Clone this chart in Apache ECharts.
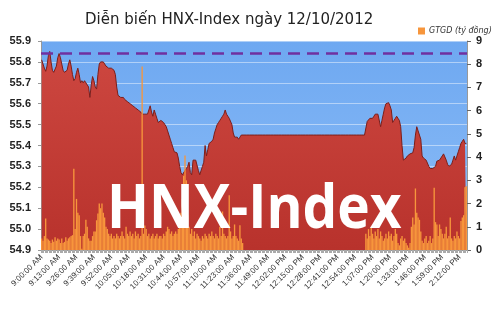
<!DOCTYPE html>
<html><head><meta charset="utf-8">
<script src="https://cdn.jsdelivr.net/npm/echarts@6/dist/echarts.min.js"></script>
<style>html,body{margin:0;padding:0;background:#fff}#c{width:500px;height:313px}</style>
</head><body><div id="c"></div>
<script>
const titleText = 'Diễn biến HNX-Index ngày 12/10/2012';
const volumeName = 'GTGD (tỷ đồng)';
const watermarkText = 'HNX-Index';
const referenceLevel = 55.84;

// HNX-Index, one value per minute
const morningIndex = [
55.81,55.79,55.77,55.755,55.78,55.83,55.85,55.80,55.76,55.75,
55.75,55.78,55.82,55.84,55.82,55.79,55.76,55.75,55.75,55.76,
55.79,55.81,55.78,55.74,55.71,55.72,55.75,55.77,55.74,55.70,
55.71,55.70,55.71,55.70,55.70,55.68,55.63,55.69,55.73,55.71,
55.68,55.67,55.74,55.79,55.80,55.80,55.80,55.79,55.78,55.78,
55.77,55.77,55.77,55.77,55.76,55.74,55.68,55.64,55.64,55.63,
55.63,55.63,55.62,55.62,55.61,55.61,55.60,55.595,55.59,55.59,
55.58,55.58,55.57,55.57,55.56,55.55,55.55,55.55,55.55,55.55,
55.55,55.59,55.56,55.54,55.57,55.55,55.53,55.51,55.51,55.52,
55.515,55.51,55.50,55.49,55.47,55.45,55.43,55.41,55.39,55.37,
55.37,55.365,55.34,55.30,55.27,55.26,55.26,55.28,55.29,55.30,
55.32,55.27,55.26,55.33,55.33,55.33,55.33,55.28,55.26,55.26,
55.30,55.32,55.40,55.35,55.38,55.41,55.41,55.42,55.43,55.46,
55.48,55.50,55.51,55.52,55.53,55.54,55.55,55.57,55.55,55.54,
55.53,55.53,55.50,55.46,55.44,55.44,55.44,55.43,55.44,55.45
];
const lunchIndex = [
55.45,55.45,55.45,55.45,55.45,55.45,55.45,55.45,55.45,55.45,
55.45,55.45,55.45,55.45,55.45,55.45,55.45,55.45,55.45,55.45,
55.45,55.45,55.45,55.45,55.45,55.45,55.45,55.45,55.45,55.45,
55.45,55.45,55.45,55.45,55.45,55.45,55.45,55.45,55.45,55.45,
55.45,55.45,55.45,55.45,55.45,55.45,55.45,55.45,55.45,55.45,
55.45,55.45,55.45,55.45,55.45,55.45,55.45,55.45,55.45,55.45,
55.45,55.45,55.45,55.45,55.45,55.45,55.45,55.45,55.45,55.45,
55.45,55.45,55.45,55.45,55.45,55.45,55.45,55.45,55.45,55.45,
55.45,55.45,55.45,55.45,55.45,55.45,55.45,55.45,55.45,55.45,
55.45,55.45
];
const afternoonIndex = [
55.45,55.515,55.52,55.53,55.53,55.53,55.54,55.55,55.55,55.55,
55.55,55.49,55.52,55.55,55.58,55.60,55.60,55.605,55.59,55.57,
55.51,55.52,55.53,55.54,55.53,55.52,55.49,55.40,55.33,55.33,
55.34,55.35,55.355,55.36,55.36,55.365,55.39,55.45,55.49,55.47,
55.45,55.43,55.35,55.34,55.34,55.33,55.325,55.30,55.29,55.29,
55.29,55.285,55.30,55.325,55.33,55.33,55.34,55.35,55.36,55.36,
55.33,55.31,55.30,55.30,55.31,55.33,55.35,55.33,55.35,55.37,
55.39,55.41,55.42,55.43,55.41,55.41
];

// GTGD (tỷ đồng), one value per minute
const morningVolume = [
0.5,0.4,0.6,1.36,0.5,0.45,0.4,0.3,0.45,0.35,
0.55,0.4,0.5,0.45,0.3,0.5,0.3,0.35,0.55,0.4,
0.5,0.55,0.6,0.64,3.5,0.9,2.2,1.6,1.5,0.6,
0.05,0.6,0.7,1.3,1.0,0.5,0.4,0.4,0.6,0.8,
0.8,1.28,1.57,2.0,1.8,2.0,1.6,1.4,1.0,0.9,
0.7,0.6,0.7,0.5,0.6,0.5,0.7,0.6,0.5,0.6,
0.8,0.6,0.5,1.0,0.7,0.6,0.8,0.6,0.7,0.5,
0.8,0.6,0.7,0.5,0.6,7.9,0.7,1.05,0.9,0.6,
0.7,0.5,0.6,0.7,0.5,0.6,0.7,0.5,0.6,0.6,
0.5,0.7,0.6,0.8,1.0,0.9,0.7,0.8,0.6,0.7,
0.8,0.7,0.9,1.2,1.6,2.2,3.2,4.07,3.0,1.5,
1.0,0.7,0.9,0.6,0.8,0.5,0.7,0.6,0.5,0.4,
0.6,0.5,0.7,0.6,0.5,0.7,0.6,0.8,0.6,0.5,
0.7,0.6,0.5,1.0,0.6,1.66,0.7,0.6,0.5,0.6,
2.36,0.8,0.5,0.6,1.1,0.6,0.5,0.4,1.07,0.5
];
const lunchVolume = [
0.3,0,0,0,0,0,0,0,0,0,
0,0,0,0,0,0,0,0,0,0,
0,0,0,0,0,0,0,0,0,0,
0,0,0,0,0,0,0,0,0,0,
0,0,0,0,0,0,0,0,0,0,
0,0,0,0,0,0,0,0,0,0,
0,0,0,0,0,0,0,0,0,0,
0,0,0,0,0,0,0,0,0,0,
0,0,0,0,0,0,0,0,0,0,
0,0
];
const afternoonVolume = [
0.7,0.5,0.9,0.6,1.0,0.7,0.5,0.8,0.6,0.9,
0.5,0.8,0.6,0.4,0.5,0.7,0.5,0.8,0.6,0.7,
0.4,0.6,0.9,0.7,0.3,0.2,0.5,0.6,0.4,0.5,
0.3,0.2,0.1,0.3,1.0,1.4,1.1,2.65,1.6,1.4,
1.3,0.8,0.4,0.3,0.5,0.6,0.3,0.4,0.6,0.3,
0.5,2.68,1.2,1.1,0.6,1.1,0.9,0.7,0.5,0.7,
1.0,0.5,0.6,1.4,0.5,0.4,0.6,0.5,0.8,0.6,
0.5,1.25,1.4,1.5,2.7,2.75
];

const indexValues = morningIndex.concat(lunchIndex, afternoonIndex);
const volumeValues = morningVolume.concat(lunchVolume, afternoonVolume);

// time categories, one per minute from 9:00:00 AM
const categories = [];
for (let i = 0; i < indexValues.length; i++) {
  const t = 9 * 60 + i;
  const h = Math.floor(t / 60), m = t % 60;
  const ap = h >= 12 ? 'PM' : 'AM';
  const hh = h > 12 ? h - 12 : h;
  categories.push(hh + ':' + String(m).padStart(2, '0') + ':00 ' + ap);
}

const chart = echarts.init(document.getElementById('c'), null, {renderer: 'canvas'});
chart.setOption({
  animation: false,
  backgroundColor: '#ffffff',
  title: {
    text: titleText, left: 80, top: 8,
    textStyle: {fontFamily: 'DejaVu Sans', fontSize: 15, fontWeight: 'normal', color: '#222'}
  },
  legend: {
    data: [volumeName], left: 413, top: 22, icon: 'rect', itemWidth: 7, itemHeight: 7, itemGap: 4,
    textStyle: {fontFamily: 'DejaVu Sans', fontStyle: 'italic', fontSize: 8, color: '#333', padding: [0, 0, 0, -1]}
  },
  grid: {
    left: 41, right: 33, top: 41, bottom: 63, show: true, borderWidth: 0,
    backgroundColor: new echarts.graphic.LinearGradient(0, 0, 0, 1, [
      {offset: 0, color: '#6ea8f1'}, {offset: 1, color: '#8cbdf7'}
    ])
  },
  xAxis: {
    type: 'category', data: categories, boundaryGap: true,
    axisLine: {lineStyle: {color: '#999'}},
    axisTick: {show: true, interval: 0, length: 3, lineStyle: {color: '#aaa'}},
    axisLabel: {interval: 12, rotate: 45, fontSize: 8, fontFamily: 'Liberation Sans', color: '#333', margin: 6}
  },
  yAxis: [{
    type: 'value', min: 54.9, max: 55.9, interval: 0.1, position: 'left',
    axisLine: {show: true, lineStyle: {color: '#999'}},
    axisTick: {show: true, length: 3, lineStyle: {color: '#999'}},
    axisLabel: {formatter: v => v.toFixed(1), fontFamily: 'Liberation Sans', fontWeight: 'bold', fontSize: 11, color: '#222', margin: 10},
    splitLine: {lineStyle: {color: 'rgba(255,255,255,0.45)', width: 1}}
  }, {
    type: 'value', min: 0, max: 9, interval: 1, position: 'right',
    axisLine: {show: true, lineStyle: {color: '#999'}},
    axisTick: {show: true, length: 4, lineStyle: {color: '#666'}},
    axisLabel: {fontFamily: 'Liberation Sans', fontWeight: 'bold', fontSize: 11, color: '#222', margin: 9},
    splitLine: {show: false}
  }],
  series: [{
    name: 'HNX-Index', type: 'line', data: indexValues, symbol: 'none', z: 2,
    lineStyle: {color: '#7c1e19', width: 1},
    areaStyle: {origin: 'start', opacity: 1, color: new echarts.graphic.LinearGradient(0, 0, 0, 1, [
      {offset: 0, color: '#cd4740'}, {offset: 1, color: '#b8322c'}
    ])},
    markLine: {
      silent: true, symbol: 'none', animation: false,
      label: {show: false},
      lineStyle: {color: '#7030a0', type: [12, 7], width: 2.5},
      data: [{yAxis: referenceLevel}]
    }
  }, {
    name: volumeName, type: 'bar', yAxisIndex: 1, data: volumeValues, z: 3,
    barCategoryGap: '0%', itemStyle: {color: '#f7963c'}
  }],
  graphic: [{
    type: 'text', x: 107, y: 211, scaleY: 1.1, z: 100,
    style: {
      text: watermarkText, fill: '#ffffff',
      font: 'bold 55px "Open Sans"', align: 'left', verticalAlign: 'middle',
      shadowBlur: 3, shadowColor: 'rgba(0,0,0,0.35)', shadowOffsetX: 1, shadowOffsetY: 1
    }
  }]
});
</script>
</body></html>
